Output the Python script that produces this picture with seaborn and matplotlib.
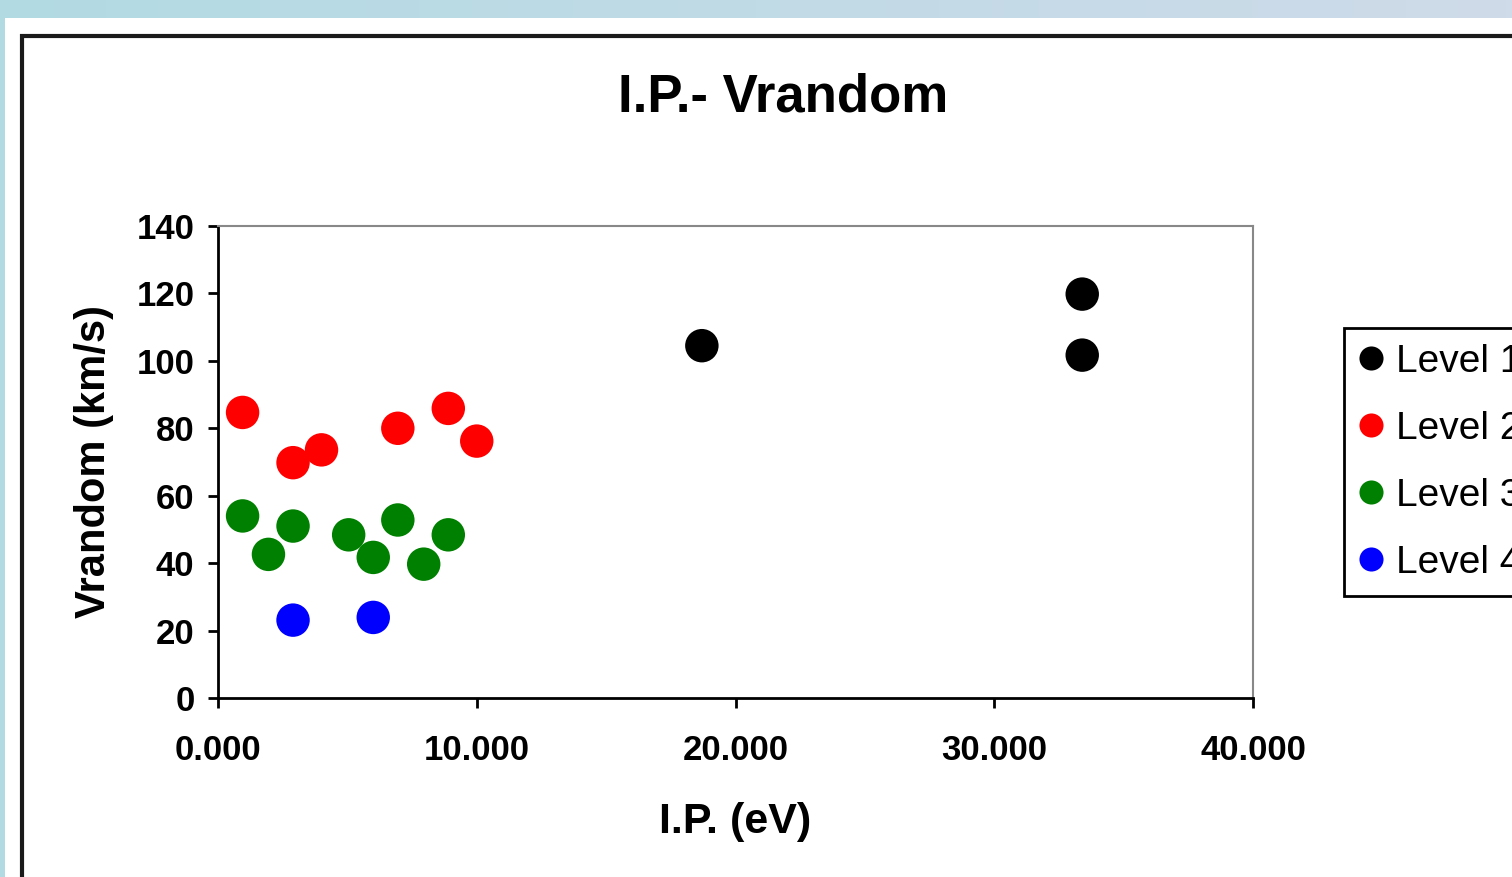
import numpy as np
import pandas as pd
import matplotlib
matplotlib.use("Agg")
import matplotlib.pyplot as plt
from matplotlib.patches import Rectangle
from matplotlib.ticker import FormatStrFormatter, MultipleLocator
from matplotlib.colors import LinearSegmentedColormap
import seaborn as sns

# ---- data ----
level1_x = [18.7, 33.4, 33.4]
level1_y = [104.5, 119.8, 101.7]
level2_x = [0.95, 2.9, 4.0, 6.95, 8.9, 10.0]
level2_y = [84.7, 69.8, 73.6, 80.0, 85.9, 76.2]
level3_x = [0.95, 2.9, 1.95, 5.05, 6.0, 6.95, 7.95, 8.9]
level3_y = [54.0, 51.0, 42.6, 48.4, 41.7, 52.8, 39.7, 48.4]
level4_x = [2.9, 6.0]
level4_y = [23.1, 23.9]
levels = ["Level 1", "Level 2", "Level 3", "Level 4"]
colors = {"Level 1": "#000000", "Level 2": "#ff0000", "Level 3": "#008000", "Level 4": "#0000ff"}

xs = [level1_x, level2_x, level3_x, level4_x]
ys = [level1_y, level2_y, level3_y, level4_y]
df = pd.DataFrame({
    "ip": sum(xs, []),
    "v": sum(ys, []),
    "level": sum([[lv] * len(x) for lv, x in zip(levels, xs)], []),
})

sns.set_theme(style="white")
plt.rcParams["font.family"] = ["Liberation Sans", "DejaVu Sans"]
plt.rcParams["text.color"] = "black"
plt.rcParams["axes.labelcolor"] = "black"

W, H = 1512, 877
fig = plt.figure(figsize=(W / 100, H / 100), dpi=100, facecolor="white")

# decorative slide background strips
gax = fig.add_axes([0, 1 - 18 / H, 1, 18 / H])
grad = np.linspace(0, 1, 256)[None, :]
cm = LinearSegmentedColormap.from_list("g", ["#b2dae3", "#cfdbe9"])
gax.imshow(grad, aspect="auto", cmap=cm, extent=[0, 1, 0, 1])
gax.set_axis_off()
fig.patches.append(Rectangle((0, 0), 5 / W, 1, transform=fig.transFigure,
                             facecolor="#b2dae3", edgecolor="none", zorder=0))
fig.patches.append(Rectangle((22 / W, -0.1), 2, 1 - 36 / H + 0.1, transform=fig.transFigure,
                             fill=False, edgecolor="#1a1a1a", linewidth=3, zorder=1))

ax = fig.add_axes([218 / W, 1 - 698 / H, (1253 - 218) / W, (698 - 226) / H])
sns.scatterplot(data=df, x="ip", y="v", hue="level", hue_order=levels, palette=colors,
                s=580, linewidth=0, ax=ax, legend=True)

ax.set_xlim(0, 40)
ax.set_ylim(0, 140)
ax.xaxis.set_major_locator(MultipleLocator(10))
ax.yaxis.set_major_locator(MultipleLocator(20))
ax.xaxis.set_major_formatter(FormatStrFormatter("%.3f"))

for side in ["top", "right"]:
    ax.spines[side].set_color("#888888")
    ax.spines[side].set_linewidth(1.5)
for side in ["left", "bottom"]:
    ax.spines[side].set_color("black")
    ax.spines[side].set_linewidth(2)

ax.tick_params(axis="both", which="major", direction="out", length=7, width=2,
               color="black", labelsize=25, labelcolor="black")
ax.tick_params(axis="y", pad=10, left=True)
ax.tick_params(axis="x", pad=19, bottom=True)
for lab in ax.get_xticklabels() + ax.get_yticklabels():
    lab.set_fontweight("bold")

ax.set_xlabel("I.P. (eV)", fontsize=31, fontweight="bold", labelpad=25, color="black")
ax.set_ylabel("Vrandom (km/s)", fontsize=30, fontweight="bold", labelpad=16, color="black")
fig.text(783 / W, 1 - 97 / H, "I.P.- Vrandom", fontsize=38, fontweight="bold",
         ha="center", va="center", color="black")

handles, labels = ax.get_legend_handles_labels()
leg = ax.legend(handles, labels, loc="upper left",
                bbox_to_anchor=(1344 / W, 1 - 328 / H), bbox_transform=fig.transFigure,
                borderaxespad=0, fontsize=28, markerscale=0.72, frameon=True,
                fancybox=False, framealpha=1, edgecolor="black",
                borderpad=0.4, labelspacing=0.8, handlelength=0.6, handletextpad=0.35)
leg.get_frame().set_linewidth(2)

fig.savefig("out.png", dpi=100, facecolor="white")
